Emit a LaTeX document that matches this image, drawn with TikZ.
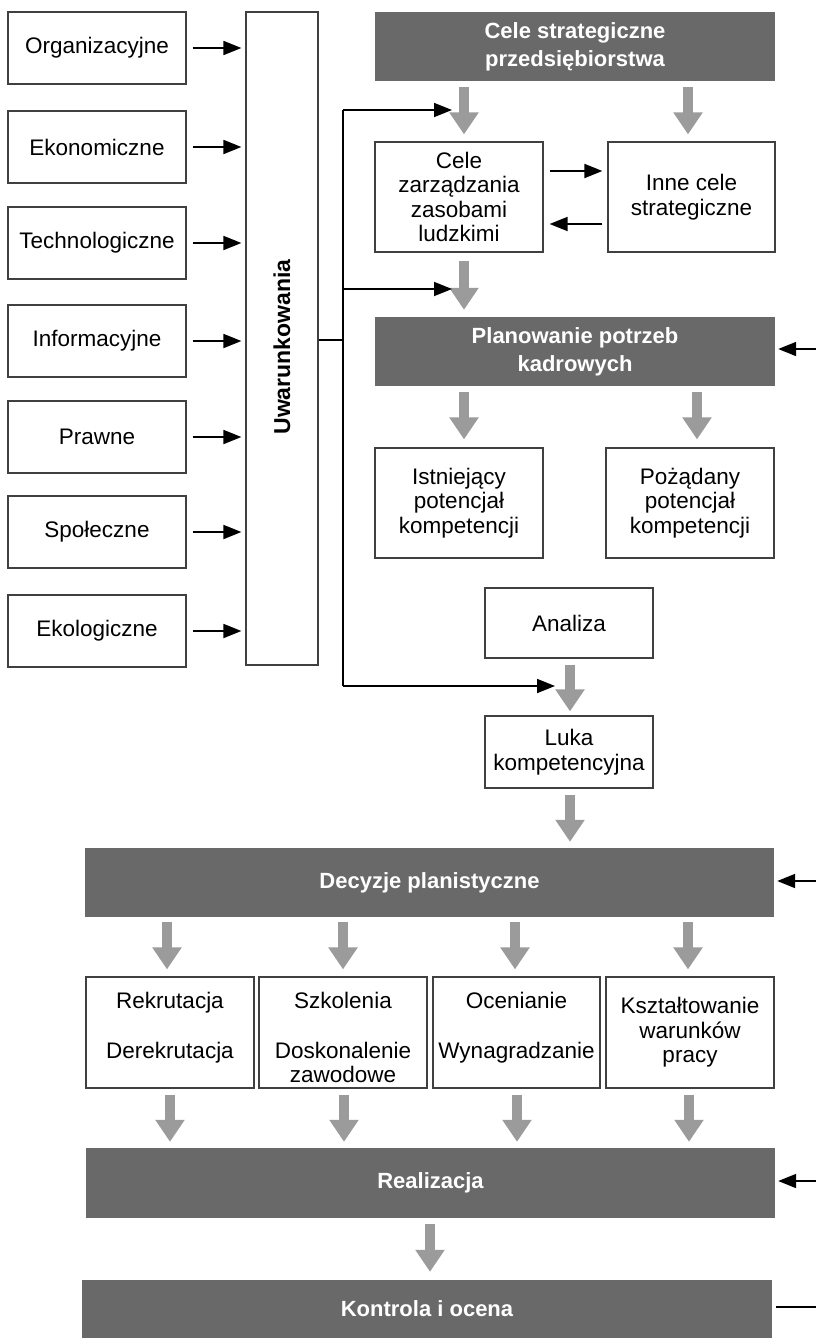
\documentclass[tikz,border=0pt]{standalone}
\usepackage{fontspec}
\setmainfont{Liberation Sans}
\usetikzlibrary{arrows.meta,calc}
\definecolor{darkbox}{HTML}{696969}
\definecolor{garrow}{HTML}{9B9B9B}
\begin{document}
\begin{tikzpicture}[x=1pt,y=-1pt,
  box/.style={draw=black!75, line width=1.2pt, fill=white, inner sep=0pt, align=center,
    font=\fontsize{22.5}{24.5}\selectfont},
  dbox/.style={fill=darkbox, draw=none, text=white, inner sep=0pt, align=center,
    font=\fontsize{22}{28}\selectfont\bfseries},
  txt/.style={inner sep=0pt, align=center, font=\fontsize{22.5}{24.5}\selectfont},
  garr/.style={draw=garrow, line width=10.5pt, -{Triangle[width=28pt,length=22pt]}},
  barr/.style={draw=black, line width=1.8pt, -{Triangle[width=14pt,length=18pt]}},
  bline/.style={draw=black, line width=1.6pt}
]
\useasboundingbox (0,0) rectangle (816,1338);

% left column
\node[box, minimum width=178pt, minimum height=72pt] (org)  at (97,48)  {Organizacyjne};
\node[box, minimum width=178pt, minimum height=72pt] (eko)  at (97,147) {Ekonomiczne};
\node[box, minimum width=178pt, minimum height=72pt] (tech) at (97,243) {Technologiczne};
\node[box, minimum width=178pt, minimum height=72pt] (inf)  at (97,341) {Informacyjne};
\node[box, minimum width=178pt, minimum height=72pt] (praw) at (97,437) {Prawne};
\node[box, minimum width=178pt, minimum height=72pt] (spol) at (97,532) {Społeczne};
\node[box, minimum width=178pt, minimum height=72pt] (ekol) at (97,631) {Ekologiczne};

\node[box, minimum width=72pt, minimum height=653pt] (uwar) at (282,338.5) {};
\node[rotate=90, inner sep=0pt, font=\fontsize{23}{24}\selectfont\bfseries] (uwart) at (282,347) {Uwarunkowania};

\foreach \n in {org,eko,tech,inf,praw,spol,ekol}{
  \draw[barr] ($(\n.east)+(6,0)$) -- ($(\n.east -| uwar.west)+(-4,0)$);
}

% right column
\node[dbox, minimum width=400pt, minimum height=69pt] (cs) at (575,46.5) {Cele strategiczne\\przedsiębiorstwa};
\node[box, minimum width=168pt, minimum height=110pt] (czl) at (459,197) {Cele\\zarządzania\\zasobami\\ludzkimi};
\node[box, minimum width=167pt, minimum height=110pt] (inne) at (691.5,197) {Inne cele\\strategiczne};
\node[dbox, minimum width=400pt, minimum height=69pt] (plan) at (575,351.5) {Planowanie potrzeb\\kadrowych};
\node[box, minimum width=168pt, minimum height=110pt] (ist) at (459,503) {Istniejący\\potencjał\\kompetencji};
\node[box, minimum width=168pt, minimum height=110pt] (poz) at (690,503) {Pożądany\\potencjał\\kompetencji};
\node[box, minimum width=168pt, minimum height=70pt] (ana) at (569,623) {Analiza};
\node[box, minimum width=168pt, minimum height=72pt] (luka) at (569,752) {Luka\\kompetencyjna};
\node[dbox, minimum width=689pt, minimum height=69pt] (dec) at (429.5,882.5) {Decyzje planistyczne};

\node[box, minimum width=168pt, minimum height=111pt] (rek) at (170,1032.5) {};
\node[box, minimum width=168pt, minimum height=111pt] (szk) at (343,1032.5) {};
\node[box, minimum width=167pt, minimum height=111pt] (oce) at (516.5,1032.5) {};
\node[box, minimum width=168pt, minimum height=111pt] (ksz) at (690,1032.5) {Kształtowanie\\warunków\\pracy};
\node[txt] (rekt) at ($(rek.center)+(0,-5)$) {Rekrutacja\\[25pt]Derekrutacja};
\node[txt] (szkt) at ($(szk.center)+(0,5)$) {Szkolenia\\[25pt]Doskonalenie\\zawodowe};
\node[txt] (ocet) at ($(oce.center)+(0,-5)$) {Ocenianie\\[25pt]Wynagradzanie};

\node[dbox, minimum width=689pt, minimum height=70pt] (real) at (430.5,1183) {Realizacja};
\node[dbox, minimum width=690pt, minimum height=58pt] (kon) at (427,1309) {Kontrola i ocena};

% gray flow arrows
\draw[garr] ($(cs.south)+(-111,6)$) -- ($(czl.north)+(5,-7)$);
\draw[garr] ($(cs.south)+(113,6)$) -- ($(inne.north)+(-3.5,-7)$);
\draw[garr] ($(czl.south)+(5,8)$) -- ($(plan.north)+(-111,-7)$);
\draw[garr] ($(plan.south)+(-111,6)$) -- ($(ist.north)+(5,-8)$);
\draw[garr] ($(plan.south)+(122,6)$) -- ($(poz.north)+(7,-8)$);
\draw[garr] ($(ana.south)+(1,6)$) -- ($(luka.north)+(1,-4)$);
\draw[garr] ($(luka.south)+(1,6)$) -- ($(dec.north)+(140.5,-6)$);
\foreach \n/\d in {rek/-3,szk/0,oce/-1.5,ksz/-2}{
  \draw[garr] ($(dec.south -| \n.north)+(\d,5)$) -- ($(\n.north)+(\d,-7)$);
}
\foreach \n/\d in {rek/0,szk/1,oce/0.5,ksz/-1}{
  \draw[garr] ($(\n.south)+(\d,6)$) -- ($(real.north -| \n.north)+(\d,-6)$);
}
\draw[garr] ($(real.south)+(-0.5,6)$) -- ($(kon.north)+(3,-8)$);

% bus from Uwarunkowania
\coordinate (bj) at (343,340);
\coordinate (bt) at (343,110);
\coordinate (bm) at (343,289);
\coordinate (bb) at (343,686);
\coordinate (e1) at (452,110);
\coordinate (e2) at (452,289);
\coordinate (e3) at (555,686);
\draw[bline] (uwar.east |- bj) -- (bj);
\draw[bline] (bt) -- (bb);
\draw[barr] (bt) -- (e1);
\draw[barr] (bm) -- (e2);
\draw[barr] (bb) -- (e3);

% between Cele zarzadzania and Inne cele
\draw[barr] ($(czl.east)+(6,-26)$) -- ($(inne.west)+(-5,-26)$);
\draw[barr] ($(inne.west)+(-5,27)$) -- ($(czl.east)+(6,27)$);

% arrows from the right edge
\coordinate (r1) at (816,349);
\coordinate (r2) at (816,881);
\coordinate (r3) at (816,1181);
\coordinate (r4) at (816,1307);
\draw[barr] (r1) -- ($(plan.east |- r1)+(3,0)$);
\draw[barr] (r2) -- ($(dec.east |- r2)+(3,0)$);
\draw[barr] (r3) -- ($(real.east |- r3)+(3,0)$);
\draw[bline] (r4) -- ($(kon.east |- r4)+(4,0)$);
\end{tikzpicture}
\end{document}
